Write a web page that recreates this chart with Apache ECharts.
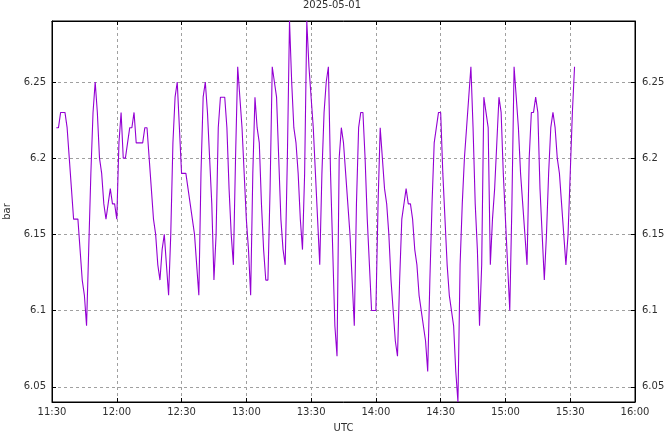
<!DOCTYPE html>
<html>
<head>
<meta charset="utf-8">
<script src="https://cdn.jsdelivr.net/npm/echarts@6/dist/echarts.min.js"></script>
<style>
html,body{margin:0;padding:0;background:#fff;}
#chart{width:664px;height:432px;}
</style>
</head>
<body>
<div id="chart"></div>
<script>
// Chart texts
const titleText = '2025-05-01';
const xAxisName = 'UTC';
const yAxisName = 'bar';

// Axis ranges (minutes since midnight UTC for x)
const xMinLabel = '11:30';
const xMaxLabel = '16:00';
const xTickStepMin = 30;
const yMin = 6.04;
const yMax = 6.29;

// Sampling of the series: first sample time and step in minutes
const sampleStart = '11:32';
const sampleStepMin = 1;

// Pressure values (bar), one per sample
const values = [
  6.22, 6.22, 6.23, 6.23, 6.23, 6.22, 6.20, 6.18, 6.16, 6.16,
  6.16, 6.14, 6.12, 6.11, 6.09, 6.14, 6.19, 6.23, 6.25, 6.23,
  6.20, 6.19, 6.17, 6.16, 6.17, 6.18, 6.17, 6.17, 6.16, 6.21,
  6.23, 6.20, 6.20, 6.21, 6.22, 6.22, 6.23, 6.21, 6.21, 6.21,
  6.21, 6.22, 6.22, 6.20, 6.18, 6.16, 6.15, 6.13, 6.12, 6.14,
  6.15, 6.13, 6.11, 6.15, 6.21, 6.24, 6.25, 6.22, 6.19, 6.19,
  6.19, 6.18, 6.17, 6.16, 6.15, 6.13, 6.11, 6.19, 6.24, 6.25,
  6.23, 6.20, 6.17, 6.12, 6.15, 6.22, 6.24, 6.24, 6.24, 6.22,
  6.18, 6.15, 6.13, 6.20, 6.26, 6.24, 6.22, 6.19, 6.16, 6.14,
  6.11, 6.19, 6.24, 6.22, 6.21, 6.17, 6.14, 6.12, 6.12, 6.18,
  6.26, 6.25, 6.24, 6.20, 6.16, 6.14, 6.13, 6.20, 6.29, 6.25,
  6.22, 6.21, 6.19, 6.16, 6.14, 6.19, 6.29, 6.26, 6.24, 6.22,
  6.19, 6.16, 6.13, 6.19, 6.23, 6.25, 6.26, 6.19, 6.14, 6.09,
  6.07, 6.20, 6.22, 6.21, 6.19, 6.17, 6.15, 6.12, 6.09, 6.17,
  6.22, 6.23, 6.23, 6.20, 6.16, 6.13, 6.10, 6.10, 6.10, 6.17,
  6.22, 6.20, 6.18, 6.17, 6.15, 6.12, 6.10, 6.08, 6.07, 6.12,
  6.16, 6.17, 6.18, 6.17, 6.17, 6.16, 6.14, 6.13, 6.11, 6.10,
  6.09, 6.08, 6.06, 6.12, 6.17, 6.21, 6.22, 6.23, 6.23, 6.19,
  6.16, 6.13, 6.11, 6.10, 6.09, 6.06, 6.04, 6.13, 6.17, 6.20,
  6.22, 6.24, 6.26, 6.22, 6.17, 6.14, 6.09, 6.13, 6.24, 6.23,
  6.22, 6.13, 6.16, 6.18, 6.21, 6.24, 6.23, 6.19, 6.16, 6.13,
  6.10, 6.17, 6.26, 6.24, 6.22, 6.19, 6.17, 6.15, 6.13, 6.20,
  6.23, 6.23, 6.24, 6.23, 6.18, 6.15, 6.12, 6.15, 6.19, 6.22,
  6.23, 6.22, 6.20, 6.19, 6.17, 6.15, 6.13, 6.15, 6.19, 6.23,
  6.26
];

function toMin(s){ const p = s.split(':'); return (+p[0]) * 60 + (+p[1]); }
function fmtMin(m){ const h = Math.floor(m / 60), mm = Math.round(m % 60); return h + ':' + (mm < 10 ? '0' : '') + mm; }

const t0 = toMin(sampleStart);
const seriesData = values.map((v, i) => [t0 + i * sampleStepMin, v]);

const FONT = 'DejaVu Sans';
const TXT = '#303030';
const FS = 10;
const gridLine = { show: true, lineStyle: { color: '#a0a0a0', type: [3, 3], width: 1 } };

const chart = echarts.init(document.getElementById('chart'), null, { renderer: 'canvas' });
chart.setOption({
  animation: false,
  backgroundColor: '#ffffff',
  title: {
    text: titleText, left: 'center', top: 0, padding: 0,
    textStyle: { fontFamily: FONT, fontSize: FS, fontWeight: 'normal', color: TXT }
  },
  grid: { left: 52, right: 29, top: 21, bottom: 30, show: true, borderColor: '#000', borderWidth: 1,
          containLabel: false, outerBoundsMode: 'none' },
  xAxis: [{
    type: 'value', position: 'bottom',
    min: toMin(xMinLabel), max: toMin(xMaxLabel), interval: xTickStepMin,
    name: xAxisName, nameLocation: 'middle', nameGap: 21,
    nameTextStyle: { fontFamily: FONT, fontSize: FS, color: TXT },
    axisLine: { show: true, lineStyle: { color: '#000', width: 1 } },
    axisTick: { show: true, inside: true, length: 4, lineStyle: { color: '#000' } },
    axisLabel: { fontFamily: FONT, fontSize: FS, color: TXT, margin: 5, formatter: v => fmtMin(v) },
    splitLine: gridLine
  }, {
    type: 'value', position: 'top',
    min: toMin(xMinLabel), max: toMin(xMaxLabel), interval: xTickStepMin,
    axisLine: { show: true, lineStyle: { color: '#000', width: 1 } },
    axisTick: { show: true, inside: true, length: 4, lineStyle: { color: '#000' } },
    axisLabel: { show: false },
    splitLine: { show: false }
  }],
  yAxis: [{
    type: 'value', position: 'left', min: yMin, max: yMax, splitNumber: 5,
    name: yAxisName, nameLocation: 'middle', nameGap: 40, nameRotate: 90,
    nameTextStyle: { fontFamily: FONT, fontSize: FS, color: TXT },
    axisLine: { show: true, lineStyle: { color: '#000', width: 1 } },
    axisTick: { show: true, inside: true, length: 4, lineStyle: { color: '#000' } },
    axisLabel: { fontFamily: FONT, fontSize: FS, color: TXT, margin: 6, showMinLabel: false, showMaxLabel: false },
    splitLine: gridLine
  }, {
    type: 'value', position: 'right', min: yMin, max: yMax, splitNumber: 5,
    axisLine: { show: true, lineStyle: { color: '#000', width: 1 } },
    axisTick: { show: true, inside: true, length: 4, lineStyle: { color: '#000' } },
    axisLabel: { fontFamily: FONT, fontSize: FS, color: TXT, margin: 7, showMinLabel: false, showMaxLabel: false },
    splitLine: { show: false }
  }],
  series: [{
    type: 'line', xAxisIndex: 0, yAxisIndex: 0,
    data: seriesData, showSymbol: false, symbol: 'none',
    lineStyle: { color: '#9400d3', width: 1.1 },
    itemStyle: { color: '#9400d3' }
  }]
});
</script>
</body>
</html>
